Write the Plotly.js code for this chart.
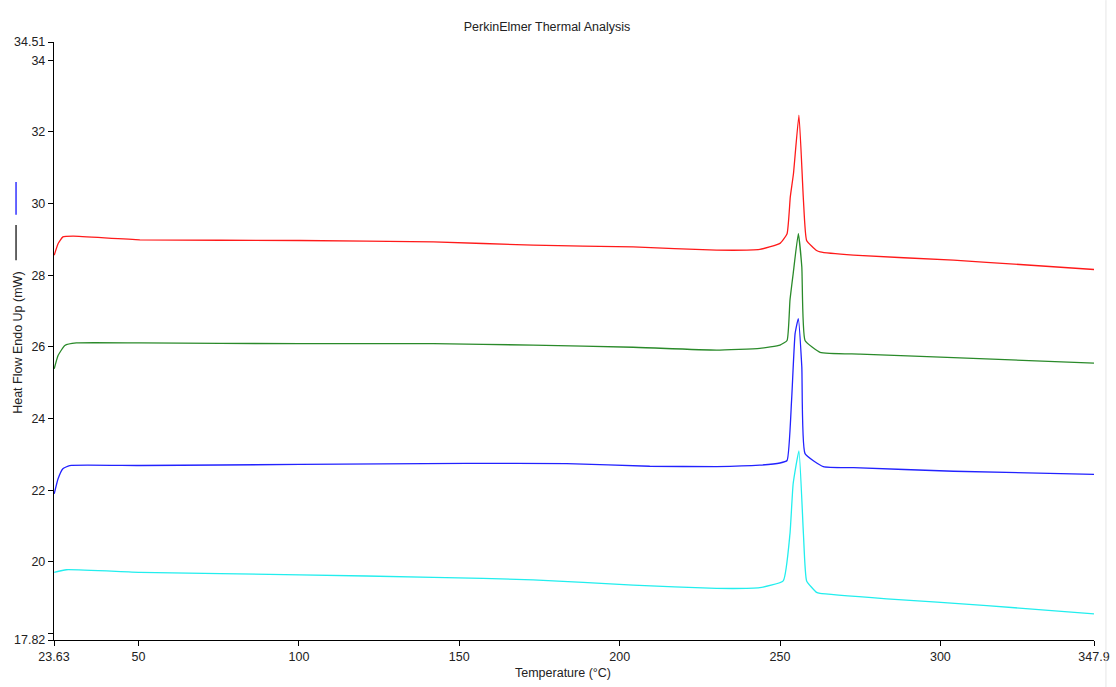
<!DOCTYPE html>
<html>
<head>
<meta charset="utf-8">
<script src="https://cdn.plot.ly/plotly-3.0.1.min.js"></script>
<style>html,body{margin:0;padding:0;background:#fff;}#chart{width:1116px;height:687px;}</style>
</head>
<body>
<div id="chart"></div>
<script>
// Temperature (°C) and heat flow (mW)
const redT = [23.7, 24.9, 26.4, 29.6, 50.4, 100.3, 141.9, 173.0, 204.2, 230.2, 243.7, 250.0, 252.2, 253.2, 254.2, 255.9, 257.3, 258.3, 261.4, 262.5, 272.9, 304.1, 324.8, 347.9];
const redY = [28.56, 28.88, 29.07, 29.09, 28.99, 28.97, 28.93, 28.84, 28.79, 28.70, 28.72, 28.89, 29.16, 30.18, 30.84, 32.47, 30.10, 28.97, 28.69, 28.65, 28.56, 28.42, 28.30, 28.16];

const greenT = [23.7, 24.9, 27.0, 30.6, 50.4, 100.3, 141.9, 173.0, 204.2, 230.2, 243.7, 250.0, 252.2, 253.1, 254.1, 255.7, 256.8, 257.8, 262.5, 275.0, 304.1, 347.9];
const greenY = [25.39, 25.76, 26.04, 26.11, 26.11, 26.09, 26.09, 26.05, 25.99, 25.91, 25.96, 26.05, 26.18, 27.30, 28.04, 29.16, 28.23, 26.18, 25.85, 25.80, 25.70, 25.55];

const blueT = [23.7, 24.9, 26.4, 28.5, 50.4, 100.3, 152.3, 183.5, 209.4, 230.2, 243.7, 250.0, 252.2, 253.6, 254.7, 255.7, 256.8, 257.8, 263.5, 272.9, 304.1, 347.9];
const blueY = [21.90, 22.32, 22.60, 22.69, 22.69, 22.72, 22.75, 22.74, 22.67, 22.66, 22.70, 22.76, 22.83, 24.50, 26.37, 26.79, 25.44, 23.02, 22.66, 22.63, 22.53, 22.44];

const cyanT = [23.7, 27.5, 50.4, 100.3, 141.9, 173.0, 204.2, 230.2, 243.7, 251.0, 253.1, 254.1, 255.9, 257.3, 258.3, 261.4, 262.5, 283.3, 314.5, 347.9];
const cyanY = [19.71, 19.78, 19.71, 19.64, 19.57, 19.50, 19.35, 19.26, 19.28, 19.47, 20.78, 22.18, 23.10, 20.78, 19.47, 19.15, 19.12, 18.97, 18.78, 18.55];

const xTickVals = [23.63, 50, 100, 150, 200, 250, 300, 347.9];
const xTickText = ['23.63', '50', '100', '150', '200', '250', '300', '347.9'];
const yTickVals = [17.82, 18, 20, 22, 24, 26, 28, 30, 32, 34, 34.51];
const yTickText = ['17.82', '', '20', '22', '24', '26', '28', '30', '32', '34', '34.51'];

function tr(x, y, color) {
  return {x: x, y: y, type: 'scatter', mode: 'lines',
    line: {color: color, width: 1.3, shape: 'spline', smoothing: 0.4},
    hoverinfo: 'skip', showlegend: false};
}
const data = [
  tr(redT, redY, '#ff1a1a'),
  tr(greenT, greenY, '#2a8a2a'),
  tr(blueT, blueY, '#2222ff'),
  tr(cyanT, cyanY, '#22eeee')
];

const FS = 12.5;
const layout = {
  width: 1116, height: 687,
  margin: {l: 54, r: 22, t: 42, b: 47, pad: 0},
  paper_bgcolor: '#ffffff', plot_bgcolor: '#ffffff',
  font: {family: 'Liberation Sans, Arial, sans-serif', size: FS, color: '#222'},
  title: {text: 'PerkinElmer Thermal Analysis', x: 0.474, xref: 'paper', xanchor: 'center', y: 0.961, yref: 'container', yanchor: 'middle', font: {size: FS, color: '#222'}},
  xaxis: {
    range: [23.63, 347.9], autorange: false,
    tickmode: 'array', tickvals: xTickVals, ticktext: xTickText,
    showline: true, linecolor: '#000', linewidth: 1.2, mirror: false,
    ticks: 'outside', ticklen: 5, tickcolor: '#000', tickwidth: 1,
    showgrid: false, zeroline: false, automargin: false,
    tickfont: {size: FS}
  },
  yaxis: {
    range: [17.82, 34.51], autorange: false,
    tickmode: 'array', tickvals: yTickVals, ticktext: yTickText,
    showline: true, linecolor: '#000', linewidth: 1.2,
    ticks: 'outside', ticklen: 5, tickcolor: '#000', tickwidth: 1,
    showgrid: false, zeroline: false, automargin: false,
    tickfont: {size: FS}
  },
  annotations: [
    {text: 'Temperature (°C)', xref: 'paper', yref: 'paper', x: 0.489, y: -0.056, xanchor: 'center', yanchor: 'middle', showarrow: false, font: {size: FS}},
    {text: 'Heat Flow Endo Up (mW)', xref: 'paper', yref: 'paper', x: -0.0346, y: 0.497, xanchor: 'center', yanchor: 'middle', textangle: -90, showarrow: false, font: {size: FS}}
  ],
  shapes: [
    {type: 'line', xref: 'paper', yref: 'paper', x0: -0.0365, x1: -0.0365, y0: 0.766, y1: 0.711, line: {color: '#3333ff', width: 1.5}},
    {type: 'line', xref: 'paper', yref: 'paper', x0: -0.0365, x1: -0.0365, y0: 0.694, y1: 0.635, line: {color: '#333333', width: 1.5}},
    {type: 'line', xref: 'paper', yref: 'paper', x0: 1.0115, x1: 1.0115, y0: -0.08, y1: 1.07, line: {color: '#e6e6e6', width: 1}}
  ]
};

Plotly.newPlot('chart', data, layout, {displayModeBar: false, staticPlot: true});
</script>
</body>
</html>
